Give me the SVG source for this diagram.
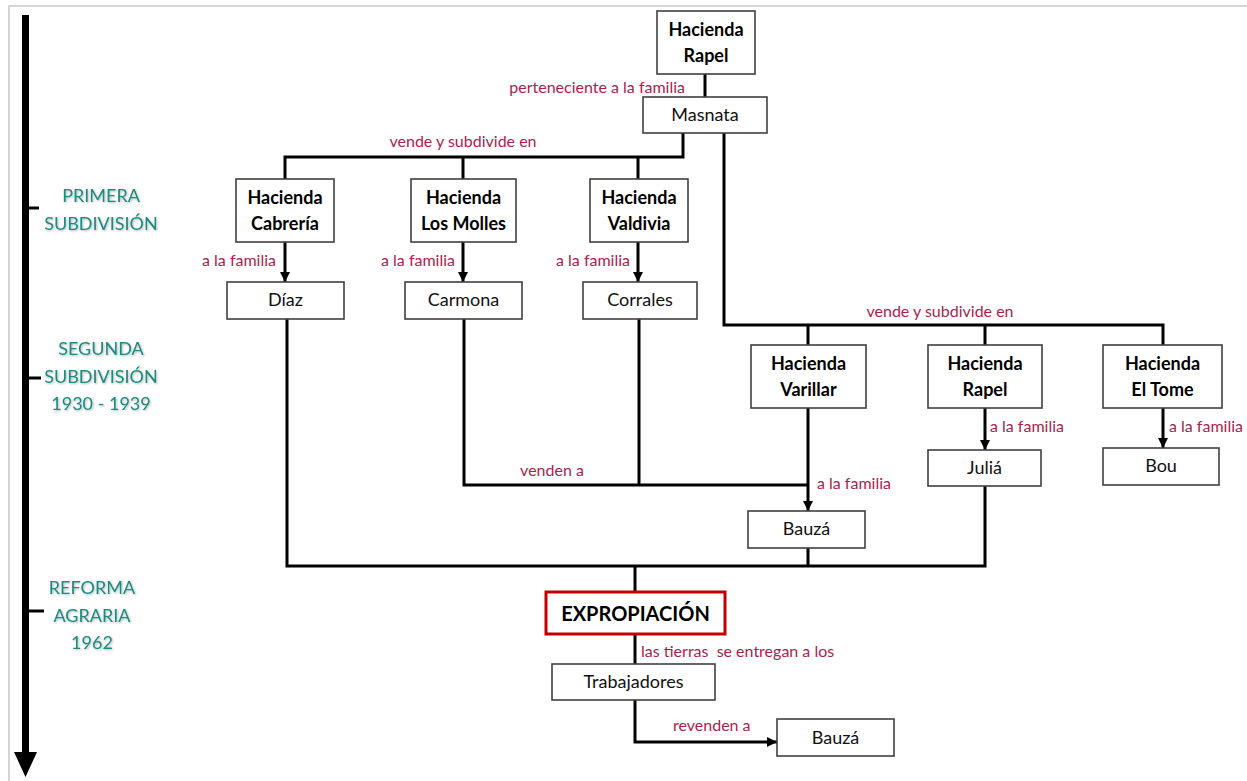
<svg xmlns="http://www.w3.org/2000/svg" width="1247" height="781" viewBox="0 0 1247 781">
<style>
.box{fill:#fff;stroke:#404040;stroke-width:1.6}
.red{fill:#fff;stroke:#c00000;stroke-width:3}
.hb{font-family:Lato,"Open Sans",sans-serif;font-weight:bold;font-size:18px;fill:#000;text-anchor:middle}
.nm{font-family:Lato,"Open Sans",sans-serif;font-size:18px;fill:#111;text-anchor:middle}
.lb{font-family:Lato,"Open Sans",sans-serif;font-size:16px;fill:#a81e4e;white-space:pre}
.tl{font-family:Lato,"Open Sans",sans-serif;font-size:18px;fill:#1f8a80;text-anchor:middle}
.ln{fill:none;stroke:#000;stroke-width:3}
</style>
<defs>
<marker id="ah" viewBox="0 0 10 10" refX="10" refY="5" markerWidth="10" markerHeight="10" markerUnits="userSpaceOnUse" orient="auto">
<path d="M0,0 L10,5 L0,10 z" fill="#000"/>
</marker>
<filter id="sh" x="-10%" y="-20%" width="120%" height="140%">
<feGaussianBlur in="SourceAlpha" stdDeviation="0.8"/>
<feOffset dx="1" dy="1" result="b"/>
<feComponentTransfer><feFuncA type="linear" slope="0.3"/></feComponentTransfer>
<feMerge><feMergeNode/><feMergeNode in="SourceGraphic"/></feMerge>
</filter>
</defs>
<rect width="1247" height="781" fill="#fff"/>
<path d="M9,781 V6 H1247" fill="none" stroke="#c8c8c8" stroke-width="1.5"/>

<g id="timeline">
<line x1="25.5" y1="15" x2="25.5" y2="754" stroke="#000" stroke-width="7"/>
<path d="M14,752 L37,752 L25.5,777 z" fill="#000"/>
<line x1="28" y1="208" x2="39" y2="208" stroke="#000" stroke-width="3"/>
<line x1="28" y1="378" x2="41" y2="378" stroke="#000" stroke-width="3"/>
<line x1="28" y1="611" x2="44" y2="611" stroke="#000" stroke-width="3"/>
<g filter="url(#sh)">
<text class="tl" x="101" y="202">PRIMERA</text>
<text class="tl" x="101" y="230">SUBDIVISIÓN</text>
<text class="tl" x="101" y="355">SEGUNDA</text>
<text class="tl" x="101" y="383">SUBDIVISIÓN</text>
<text class="tl" x="101" y="410">1930 - 1939</text>
<text class="tl" x="92" y="594">REFORMA</text>
<text class="tl" x="92" y="622">AGRARIA</text>
<text class="tl" x="92" y="649">1962</text>
</g>
</g>

<g id="connectors">
<line class="ln" x1="705" y1="74" x2="705" y2="97"/>
<polyline class="ln" points="683,133 683,157 285,157 285,179"/>
<line class="ln" x1="463" y1="157" x2="463" y2="179"/>
<line class="ln" x1="638" y1="157" x2="638" y2="179"/>
<line class="ln" x1="285" y1="242" x2="285" y2="282" marker-end="url(#ah)"/>
<line class="ln" x1="463" y1="242" x2="463" y2="282" marker-end="url(#ah)"/>
<line class="ln" x1="638" y1="242" x2="638" y2="282" marker-end="url(#ah)"/>
<polyline class="ln" points="724,133 724,325 1163,325 1163,345"/>
<line class="ln" x1="808" y1="325" x2="808" y2="345"/>
<line class="ln" x1="985" y1="325" x2="985" y2="345"/>
<line class="ln" x1="985" y1="408" x2="985" y2="450" marker-end="url(#ah)"/>
<line class="ln" x1="1163" y1="408" x2="1163" y2="448" marker-end="url(#ah)"/>
<line class="ln" x1="808" y1="408" x2="808" y2="511" marker-end="url(#ah)"/>
<polyline class="ln" points="464,319 464,485 808,485"/>
<line class="ln" x1="639" y1="319" x2="639" y2="485"/>
<polyline class="ln" points="287,319 287,566 985,566 985,486"/>
<line class="ln" x1="808" y1="548" x2="808" y2="566"/>
<line class="ln" x1="635" y1="566" x2="635" y2="592"/>
<line class="ln" x1="635" y1="634" x2="635" y2="664"/>
<polyline class="ln" points="635,700 635,742 777,742" marker-end="url(#ah)"/>
</g>

<g id="labels">
<text class="lb" x="685" y="93" text-anchor="end">perteneciente a la familia</text>
<text class="lb" x="463" y="147" text-anchor="middle">vende y subdivide en</text>
<text class="lb" x="276" y="266" text-anchor="end">a la familia</text>
<text class="lb" x="455" y="266" text-anchor="end">a la familia</text>
<text class="lb" x="630" y="266" text-anchor="end">a la familia</text>
<text class="lb" x="940" y="317" text-anchor="middle">vende y subdivide en</text>
<text class="lb" x="990" y="432">a la familia</text>
<text class="lb" x="1169" y="432">a la familia</text>
<text class="lb" x="552" y="476" text-anchor="middle">venden a</text>
<text class="lb" x="817" y="489">a la familia</text>
<text class="lb" x="641" y="657">las tierras  se entregan a los</text>
<text class="lb" x="673" y="731">revenden a</text>
</g>

<g id="n-rapel-top"><rect class="box" x="657" y="11" width="98" height="63"/><text class="hb" x="706" y="36">Hacienda</text><text class="hb" x="706" y="62">Rapel</text></g>
<g id="n-masnata"><rect class="box" x="643" y="97" width="124" height="36"/><text class="nm" x="705" y="121">Masnata</text></g>
<g id="n-cabreria"><rect class="box" x="236" y="179" width="98" height="63"/><text class="hb" x="285" y="204">Hacienda</text><text class="hb" x="285" y="230">Cabrería</text></g>
<g id="n-losmolles"><rect class="box" x="411" y="179" width="105" height="63"/><text class="hb" x="463.5" y="204">Hacienda</text><text class="hb" x="463.5" y="230">Los Molles</text></g>
<g id="n-valdivia"><rect class="box" x="590" y="179" width="98" height="63"/><text class="hb" x="639" y="204">Hacienda</text><text class="hb" x="639" y="230">Valdivia</text></g>
<g id="n-diaz"><rect class="box" x="227" y="282" width="117" height="37"/><text class="nm" x="285.5" y="306">Díaz</text></g>
<g id="n-carmona"><rect class="box" x="405" y="282" width="117" height="37"/><text class="nm" x="463.5" y="306">Carmona</text></g>
<g id="n-corrales"><rect class="box" x="583" y="282" width="114" height="37"/><text class="nm" x="640" y="306">Corrales</text></g>
<g id="n-varillar"><rect class="box" x="751" y="345" width="115" height="63"/><text class="hb" x="808.5" y="370">Hacienda</text><text class="hb" x="808.5" y="396">Varillar</text></g>
<g id="n-rapel2"><rect class="box" x="928" y="345" width="114" height="63"/><text class="hb" x="985" y="370">Hacienda</text><text class="hb" x="985" y="396">Rapel</text></g>
<g id="n-eltome"><rect class="box" x="1103" y="345" width="119" height="63"/><text class="hb" x="1162.5" y="370">Hacienda</text><text class="hb" x="1162.5" y="396">El Tome</text></g>
<g id="n-julia"><rect class="box" x="928" y="450" width="113" height="36"/><text class="nm" x="984.5" y="474">Juliá</text></g>
<g id="n-bou"><rect class="box" x="1103" y="448" width="116" height="37"/><text class="nm" x="1161" y="472">Bou</text></g>
<g id="n-bauza1"><rect class="box" x="748" y="511" width="117" height="37"/><text class="nm" x="806.5" y="535">Bauzá</text></g>
<g id="n-expropiacion"><rect class="red" x="546" y="592" width="179" height="42"/><text class="hb" x="635.5" y="621" style="font-size:20px">EXPROPIACIÓN</text></g>
<g id="n-trabajadores"><rect class="box" x="552" y="664" width="163" height="36"/><text class="nm" x="633.5" y="688">Trabajadores</text></g>
<g id="n-bauza2"><rect class="box" x="777" y="719" width="117" height="37"/><text class="nm" x="835.5" y="744">Bauzá</text></g>
</svg>
